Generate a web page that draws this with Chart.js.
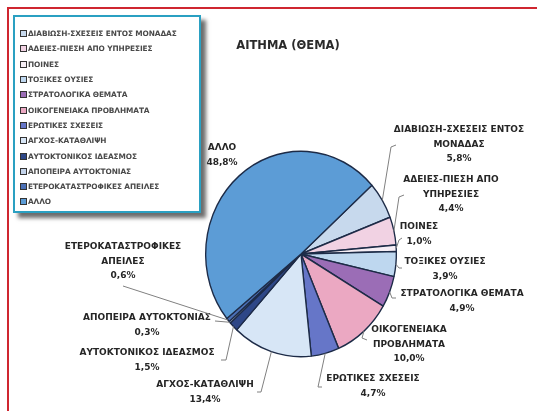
<!DOCTYPE html>
<html>
<head>
<meta charset="utf-8">
<script src="https://cdn.jsdelivr.net/npm/chart.js@4/dist/chart.umd.min.js"></script>
<style>
  html,body{margin:0;padding:0;background:#fff;}
  #wrap{position:relative;width:537px;height:411px;overflow:hidden;background:#fff;}
  #c{position:absolute;left:0;top:0;}
  .redTop{position:absolute;left:7px;top:7px;width:540px;height:2px;background:#cf2630;}
  .redLeft{position:absolute;left:7px;top:7px;width:2px;height:420px;background:#cf2630;}
  #legend{position:absolute;left:13px;top:15px;width:188px;height:198px;border:2px solid #2aa0c2;background:#fff;
    box-shadow:5px 5px 4px #6d6d6d;box-sizing:border-box;padding:9px 0 0 5px;}
  .li{height:15.3px;font:bold 7.4px "DejaVu Sans",sans-serif;color:#4a4a4a;white-space:nowrap;display:flex;align-items:center;letter-spacing:-0.1px;}
  .sw{display:inline-block;width:5px;height:5px;border:1px solid #333;margin-right:1px;flex:none;}
  #title{position:absolute;left:213px;top:38px;width:150px;text-align:center;font:bold 11.5px "DejaVu Sans",sans-serif;color:#2a2a2a;}
</style>
</head>
<body>
<div id="wrap">
  <canvas id="c" width="537" height="411"></canvas>
  <div class="redTop"></div>
  <div class="redLeft"></div>
  <div id="legend"></div>
  <div id="title">ΑΙΤΗΜΑ (ΘΕΜΑ)</div>
</div>
<script>
// ---- data ----
const categories = [
  "ΔΙΑΒΙΩΣΗ-ΣΧΕΣΕΙΣ ΕΝΤΟΣ ΜΟΝΑΔΑΣ",
  "ΑΔΕΙΕΣ-ΠΙΕΣΗ ΑΠΟ ΥΠΗΡΕΣΙΕΣ",
  "ΠΟΙΝΕΣ",
  "ΤΟΞΙΚΕΣ ΟΥΣΙΕΣ",
  "ΣΤΡΑΤΟΛΟΓΙΚΑ ΘΕΜΑΤΑ",
  "ΟΙΚΟΓΕΝΕΙΑΚΑ ΠΡΟΒΛΗΜΑΤΑ",
  "ΕΡΩΤΙΚΕΣ ΣΧΕΣΕΙΣ",
  "ΑΓΧΟΣ-ΚΑΤΑΘΛΙΨΗ",
  "ΑΥΤΟΚΤΟΝΙΚΟΣ ΙΔΕΑΣΜΟΣ",
  "ΑΠΟΠΕΙΡΑ ΑΥΤΟΚΤΟΝΙΑΣ",
  "ΕΤΕΡΟΚΑΤΑΣΤΡΟΦΙΚΕΣ ΑΠΕΙΛΕΣ",
  "ΑΛΛΟ"
];
const percentages = [5.8, 4.4, 1.0, 3.9, 4.9, 10.0, 4.7, 13.4, 1.5, 0.3, 0.6, 48.8];
const sliceColors = ["#c7d9ed","#f1d2e3","#f6eef5","#bed7ef","#9b6db6","#eba8c2","#6676c8","#d7e6f6","#2e4787","#c3d3ea","#4b70b6","#5c9cd6"];

// ---- label layout (positions kept separate from data) ----
const labelLayout = [
  {x:459, y:130, words:2, path:[[391,147],[396,145]]},
  {x:451, y:180, words:2, path:[[399,197],[404,195]]},
  {x:419, y:227, words:9, path:[[399,240],[402,238]]},
  {x:445, y:262, words:9, path:[[399,268],[402,268]]},
  {x:462, y:294, words:9, path:[[392,298],[396,298]]},
  {x:409, y:330, words:1, path:[[362,338],[367,340]]},
  {x:373, y:379, words:9, path:[[318,387],[322,387]]},
  {x:205, y:385, words:9, path:[[261,392],[257,392]]},
  {x:147, y:353, words:9, path:[[226,360],[221,360]]},
  {x:147, y:318, words:9, path:[[215,321]]},
  {x:123, y:247, words:1, path:[[123,286]]},
  {x:222, y:148, words:9, path:null}
];
const pieScale = {sx:0.97, sy:1.045};

// legend
const legendEl = document.getElementById('legend');
categories.forEach((c,i)=>{
  const d=document.createElement('div'); d.className='li';
  const s=document.createElement('span'); s.className='sw'; s.style.background=sliceColors[i];
  d.appendChild(s); d.appendChild(document.createTextNode(c));
  legendEl.appendChild(d);
});

const fmt = v => v.toFixed(1).replace('.', ',') + '%';

const labelPlugin = {
  id:'outLabels',
  beforeDatasetsDraw(chart){
    const ctx = chart.ctx;
    const a = chart.getDatasetMeta(0).data[0];
    ctx.save();
    ctx.translate(a.x, a.y);
    ctx.scale(pieScale.sx, pieScale.sy);
    ctx.translate(-a.x, -a.y);
  },
  afterDatasetsDraw(chart){
    const ctx = chart.ctx;
    ctx.restore();
    const meta = chart.getDatasetMeta(0);
    ctx.save();
    meta.data.forEach((arc,i)=>{
      const L = labelLayout[i];
      const p = arc.getProps(['x','y','startAngle','endAngle','outerRadius'], true);
      const mid = (p.startAngle + p.endAngle)/2;
      const ex = p.x + Math.cos(mid)*p.outerRadius*pieScale.sx;
      const ey = p.y + Math.sin(mid)*p.outerRadius*pieScale.sy;
      if (L.path){
        ctx.strokeStyle = '#808080'; ctx.lineWidth = 1;
        ctx.beginPath(); ctx.moveTo(ex,ey);
        L.path.forEach(pt=>ctx.lineTo(pt[0],pt[1]));
        ctx.stroke();
      }
      const words = categories[i].split(' ');
      const lines = [words.slice(0,L.words).join(' ')];
      if (words.length > L.words) lines.push(words.slice(L.words).join(' '));
      lines.push(fmt(percentages[i]));
      ctx.fillStyle = '#262626';
      ctx.font = 'bold 9px "DejaVu Sans", sans-serif';
      ctx.textAlign = 'center'; ctx.textBaseline = 'middle';
      lines.forEach((t,k)=>ctx.fillText(t, L.x, L.y + k*14.5));
    });
    ctx.restore();
  }
};

new Chart(document.getElementById('c'), {
  type:'pie',
  data:{
    labels: categories,
    datasets:[{
      data: percentages,
      backgroundColor: sliceColors,
      borderColor:'#1d2b47',
      borderWidth:1.4
    }]
  },
  options:{
    responsive:false,
    animation:false,
    rotation:48,
    layout:{padding:{left:202, right:137, top:155, bottom:58}},
    plugins:{legend:{display:false}, tooltip:{enabled:false}, title:{display:false}}
  },
  plugins:[labelPlugin]
});
</script>
</body>
</html>
